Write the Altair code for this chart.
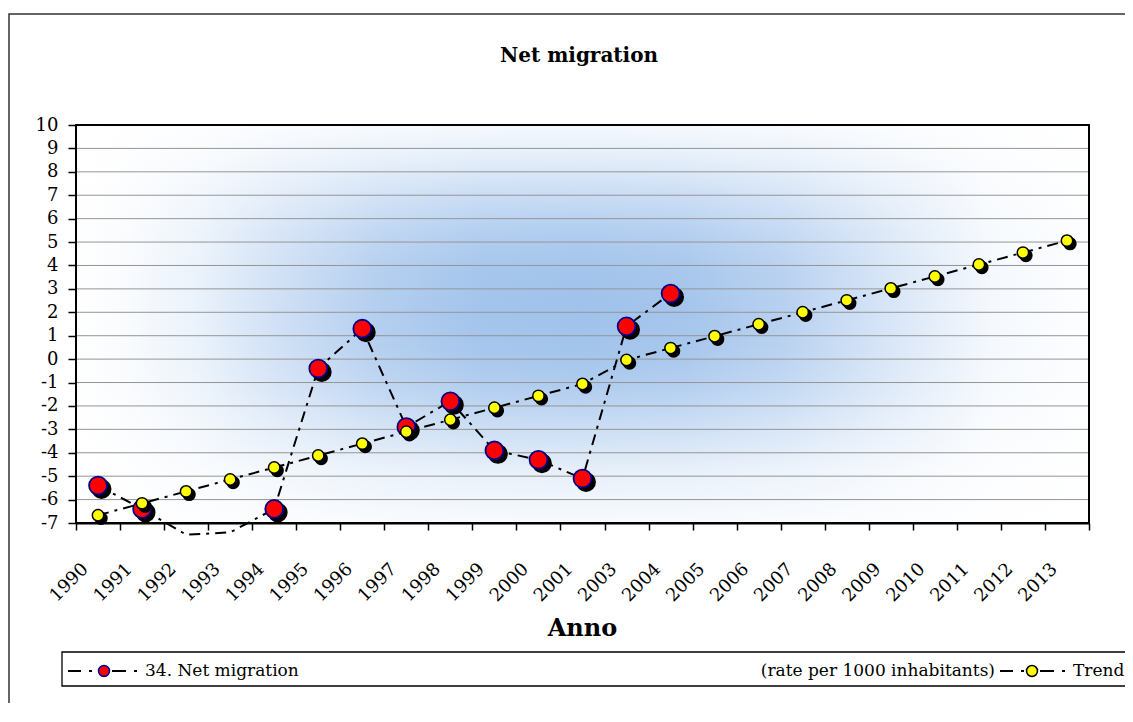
import json
import altair as alt
import pandas as pd

# ---------------- data ----------------
YEARS = ["1990", "1991", "1992", "1993", "1994", "1995", "1996", "1997", "1998",
         "1999", "2000", "2001", "2003", "2004", "2005", "2006", "2007", "2008",
         "2009", "2010", "2011", "2012", "2013"]
NET = [-5.4, -6.4, -7.5, -7.4, -6.4, -0.4, 1.3, -2.9, -1.8, -3.9, -4.3, -5.1,
       1.4, 2.8, None, None, None, None, None, None, None, None, None]
TREND = [-6.67, -6.16, -5.65, -5.14, -4.63, -4.12, -3.61, -3.10, -2.59, -2.08,
         -1.57, -1.06, -0.04, 0.47, 0.98, 1.49, 2.00, 2.51, 3.02, 3.53, 4.04,
         4.55, 5.06]
Y_TICKS = list(range(-7, 11))
GRID = list(range(-6, 10))
X_TICKS = list(range(0, len(YEARS) + 1))

TITLE = "Net migration"
X_TITLE = "Anno"
LEGEND_NET = "34. Net migration"
LEGEND_UNIT = "(rate per 1000 inhabitants)"
LEGEND_TREND = "Trend"

FONT = "DejaVu Serif"
W, H = 1013, 398
DASH = [11, 6, 3, 6]

df = pd.DataFrame({
    "year": YEARS,
    "pos": [i + 0.5 for i in range(len(YEARS))],
    "net": NET,
    "trend": TREND,
})
one = pd.DataFrame({"k": [0]})
grid_df = pd.DataFrame({"g": GRID})

X_SCALE = alt.Scale(domain=[0, len(YEARS)], nice=False, zero=False)
Y_SCALE = alt.Scale(domain=[-7, 10], nice=False, zero=False)

X_AXIS = alt.Axis(
    values=X_TICKS,
    labelExpr=f"datum.value < {len(YEARS)} ? {json.dumps(YEARS)}[datum.value] : ''",
    labelAngle=-45, labelAlign="right", labelBaseline="middle",
    labelOffset=9, labelPadding=36, labelFont=FONT, labelFontSize=18,
    labelColor="black", labelOverlap=False, labelFlush=False,
    tickSize=7, tickColor="black", tickWidth=1.5,
    domainColor="black", domainWidth=2, grid=False,
    title=X_TITLE, titleFont=FONT, titleFontSize=24, titleFontWeight="bold",
    titleColor="black", titleX=506, titleY=105, titleBaseline="middle",
    titleAlign="center", titleAngle=0,
)
Y_AXIS = alt.Axis(
    values=Y_TICKS, labelExpr="'' + datum.value",
    labelFont=FONT, labelFontSize=18, labelColor="black", labelPadding=10,
    labelFlush=False, labelOverlap=False,
    tickSize=8, tickColor="black", tickWidth=1.5,
    domainColor="black", domainWidth=2, grid=False, title=None,
)

X = alt.X("pos:Q", scale=X_SCALE, axis=X_AXIS)


def yq(field):
    return alt.Y(f"{field}:Q", scale=Y_SCALE, axis=Y_AXIS)


def mix(t):
    r = round(255 - 95 * t)
    g = round(255 - 61 * t)
    b = round(255 - 20 * t)
    return f"#{r:02x}{g:02x}{b:02x}"


# ---------------- background ----------------
border = alt.Chart(one).mark_rect(fillOpacity=0, stroke="#333333", strokeWidth=1.5).encode(
    x=alt.value(-67), x2=alt.value(1200), y=alt.value(-111), y2=alt.value(700))

h_stops = [(0.0, 0.0), (0.05, 0.06), (0.12, 0.22), (0.2, 0.5), (0.3, 0.8),
           (0.4, 0.97), (0.5, 1.0), (0.6, 0.95), (0.7, 0.75), (0.8, 0.42),
           (0.9, 0.12), (1.0, 0.02)]
bg_h = alt.Chart(one).mark_rect(
    fill=alt.LinearGradient(
        gradient="linear", x1=0, x2=1, y1=0, y2=0,
        stops=[alt.GradientStop(offset=o, color=mix(t)) for o, t in h_stops]),
).encode(x=alt.value(0), x2=alt.value("width"), y=alt.value(0), y2=alt.value("height"))

v_stops = [(0.0, 0.9), (0.08, 0.72), (0.17, 0.45), (0.27, 0.18), (0.37, 0.03),
           (0.46, 0.0), (0.56, 0.03), (0.66, 0.18), (0.76, 0.45), (0.87, 0.75),
           (1.0, 0.92)]
bg_v = alt.Chart(one).mark_rect(
    fill=alt.LinearGradient(
        gradient="linear", x1=0, x2=0, y1=0, y2=1,
        stops=[alt.GradientStop(offset=o, color=f"rgba(255,255,255,{a})") for o, a in v_stops]),
).encode(x=alt.value(0), x2=alt.value("width"), y=alt.value(0), y2=alt.value("height"))

grid = alt.Chart(grid_df).mark_rule(color="#959595", strokeWidth=1).encode(y=yq("g"))

frame = alt.Chart(one).mark_rect(fillOpacity=0, stroke="black", strokeWidth=2).encode(
    x=alt.value(0), x2=alt.value("width"), y=alt.value(0), y2=alt.value("height"))

# ---------------- series ----------------
net_base = alt.Chart(df).transform_filter("isValid(datum.net)")
net_line = net_base.mark_line(color="black", strokeWidth=2, strokeDash=DASH).encode(x=X, y=yq("net"))
net_pts_base = net_base.transform_filter("datum.net >= -7")
net_shadow = net_pts_base.mark_point(shape="circle", filled=True, fill="black", stroke="black",
                                     size=320, opacity=1, xOffset=3.5, yOffset=3.5).encode(x=X, y=yq("net"))
net_pts = net_pts_base.mark_point(shape="circle", filled=True, fill="#ff0000", stroke="#00008b",
                                  strokeWidth=1.8, size=320, opacity=1).encode(x=X, y=yq("net"))

tr_base = alt.Chart(df)
tr_line = tr_base.mark_line(color="black", strokeWidth=2, strokeDash=DASH).encode(x=X, y=yq("trend"))
tr_shadow = tr_base.mark_point(shape="circle", filled=True, fill="black", stroke="black",
                               size=130, opacity=1, xOffset=3, yOffset=3).encode(x=X, y=yq("trend"))
tr_pts = tr_base.mark_point(shape="circle", filled=True, fill="#ffff00", stroke="black",
                            strokeWidth=1.5, size=130, opacity=1).encode(x=X, y=yq("trend"))

# ---------------- title ----------------
title = alt.Chart(one).mark_text(text=TITLE, font=FONT, fontSize=20, fontWeight="bold",
                                 color="black", align="center", baseline="middle").encode(
    x=alt.value(503), y=alt.value(-69))

# ---------------- legend ----------------
LY = 546
leg_box = alt.Chart(one).mark_rect(fill="white", stroke="black", strokeWidth=1.3).encode(
    x=alt.value(-14), x2=alt.value(1100), y=alt.value(527), y2=alt.value(561))


def leg_rule(x1, x2, dash):
    return alt.Chart(one).mark_rule(color="black", strokeWidth=2, strokeDash=dash).encode(
        x=alt.value(x1), x2=alt.value(x2), y=alt.value(LY))


leg_lines = [leg_rule(-8, 16, [13, 8, 3, 8]), leg_rule(36, 62, [14, 8, 3, 8]),
             leg_rule(924, 948, [13, 8, 3, 8]), leg_rule(964, 990, [14, 8, 3, 8])]
leg_net_pt = alt.Chart(one).mark_point(shape="circle", filled=True, fill="#ff0000", stroke="#00008b",
                                       strokeWidth=1.5, size=120, opacity=1).encode(
    x=alt.value(28), y=alt.value(LY))
leg_tr_pt = alt.Chart(one).mark_point(shape="circle", filled=True, fill="#ffff00", stroke="black",
                                      strokeWidth=1.5, size=120, opacity=1).encode(
    x=alt.value(956), y=alt.value(LY))


def leg_text(txt, x, align):
    return alt.Chart(one).mark_text(text=txt, font=FONT, fontSize=17, color="black",
                                    align=align, baseline="middle").encode(
        x=alt.value(x), y=alt.value(LY))


leg_texts = [leg_text(LEGEND_NET, 69, "left"), leg_text(LEGEND_UNIT, 919, "right"),
             leg_text(LEGEND_TREND, 997, "left")]

chart = alt.layer(
    border, bg_h, bg_v, grid, frame,
    net_line, net_shadow, net_pts,
    tr_line, tr_shadow, tr_pts,
    title, leg_box, *leg_lines, leg_net_pt, leg_tr_pt, *leg_texts,
).properties(
    width=W, height=H,
    autosize=alt.AutoSizeParams(type="none"),
    padding={"left": 68, "top": 117, "right": 36, "bottom": 180},
    background="white",
).configure_view(stroke=None)

chart.save("out.html", embed_options={"renderer": "svg", "actions": False})
